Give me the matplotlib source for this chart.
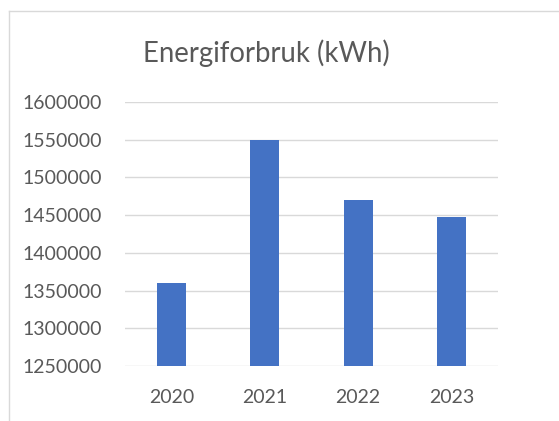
import matplotlib
matplotlib.use('Agg')
import matplotlib.pyplot as plt
from matplotlib.lines import Line2D

years = ['2020', '2021', '2022', '2023']
energy = [1360000, 1550000, 1470000, 1447000]
yticks = [1250000, 1300000, 1350000, 1400000, 1450000, 1500000, 1550000, 1600000]

plt.rcParams['font.family'] = ['Lato', 'DejaVu Sans']
textColor = '#595959'
gridColor = '#D9D9D9'

W, H = 559, 421
fig = plt.figure(figsize=(W / 100, H / 100), dpi=100)
ax = fig.add_axes([125 / W, (H - 366) / H, (498 - 125) / W, (366 - 102) / H])

x = range(len(years))
ax.bar(x, energy, width=0.31, color='#4472C4', zorder=3)
ax.set_xlim(-0.5, len(years) - 0.5)
ax.set_ylim(yticks[0], yticks[-1])
ax.set_yticks(yticks)
ax.set_yticklabels([str(v) for v in yticks])
ax.set_xticks(list(x))
ax.set_xticklabels(years)
ax.tick_params(axis='both', length=0, colors=textColor, labelsize=14)
ax.tick_params(axis='y', pad=16.5)
ax.tick_params(axis='x', pad=16.5)
ax.grid(axis='y', color=gridColor, linewidth=1.0, zorder=0)
for s in ax.spines.values():
    s.set_visible(False)

fig.text(266 / W, 1 - 53 / H, 'Energiforbruk (kWh)', ha='center', va='center',
         fontsize=19.8, color=textColor)

# chart border (only left and top visible in the crop)
fig.add_artist(Line2D([8.5 / W, 8.5 / W], [0, 1 - 10.5 / H], transform=fig.transFigure,
                      color=gridColor, linewidth=1.0))
fig.add_artist(Line2D([8.5 / W, 1], [1 - 10.5 / H, 1 - 10.5 / H], transform=fig.transFigure,
                      color=gridColor, linewidth=1.0))

fig.savefig('out.png', dpi=100)
